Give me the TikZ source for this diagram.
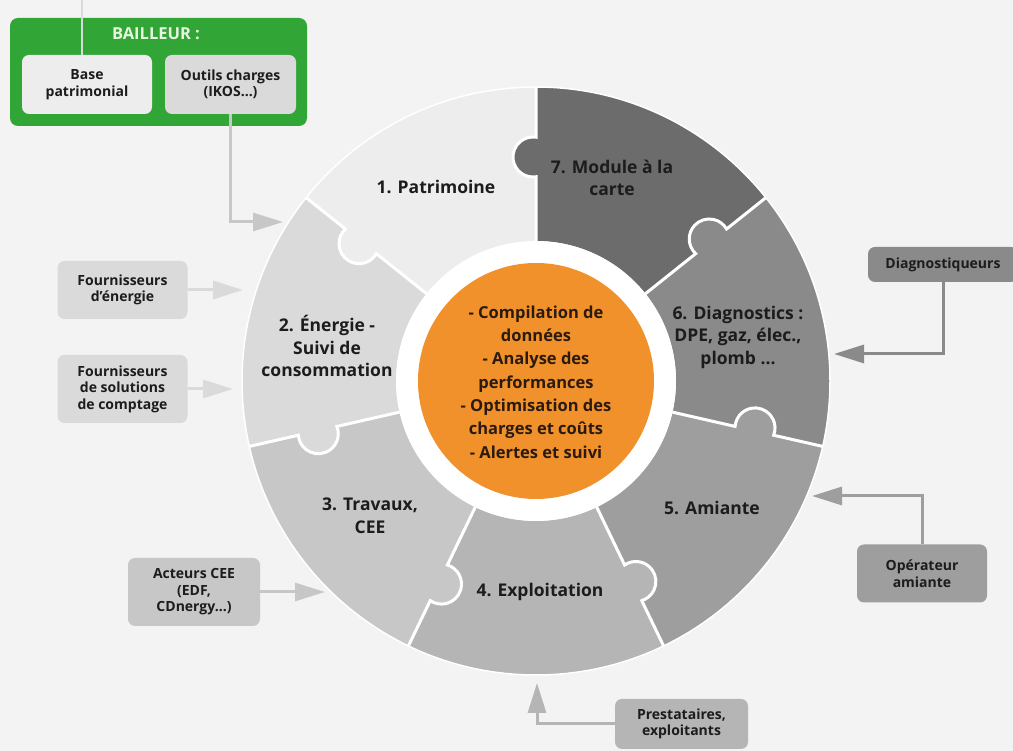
\documentclass[tikz,border=0pt]{standalone}
\usepackage{fontspec}
\setmainfont{Open Sans}
\usetikzlibrary{arrows.meta}

\definecolor{paper}{HTML}{F3F3F3}
\definecolor{seg1}{HTML}{EDEDED}
\definecolor{seg2}{HTML}{DADADA}
\definecolor{seg3}{HTML}{C7C7C7}
\definecolor{seg4}{HTML}{B5B5B5}
\definecolor{seg5}{HTML}{9E9E9E}
\definecolor{seg6}{HTML}{8A8A8A}
\definecolor{seg7}{HTML}{6C6C6C}
\definecolor{hubfill}{HTML}{F0912B}
\definecolor{hubink}{HTML}{2B1A0E}
\definecolor{ink}{HTML}{1C1C1C}
\definecolor{leaf}{HTML}{31A637}
\definecolor{leafink}{HTML}{E8F4E0}

\begin{document}
\begin{tikzpicture}[x=1pt, y=1pt,
  lbl/.style = {align=center, text=ink, font=\fontsize{17.5}{22.5}\selectfont\bfseries},
  hub/.style = {align=center, text=hubink, font=\fontsize{16.5}{23.3}\selectfont\bfseries},
  src/.style = {rounded corners=7pt, align=center, minimum width=130pt, minimum height=58pt,
    inner sep=2pt, text=ink, font=\fontsize{14}{16.5}\selectfont\bfseries},
  feed/.style = {line width=3pt, -{Triangle[length=30pt, width=18pt]}},
  gap/.style = {white, line width=3pt}]
\useasboundingbox (0,0) rectangle (1013,751);
\fill[paper] (0,0) rectangle (1013,751);
\coordinate (o) at (536,370);

% puzzle ring
\foreach \k in {1,...,7} {
  \pgfmathsetmacro{\as}{90+360/7*(\k-1)}
  \pgfmathsetmacro{\ae}{90+360/7*\k}
  \fill[seg\k] (o) ++(\as:140) arc[start angle=\as, end angle=\ae, radius=140]
    -- ++(\ae:154) arc[start angle=\ae, end angle=\as, radius=294] -- cycle;
}
\foreach \k in {1,...,7} {
  \pgfmathsetmacro{\ae}{90+360/7*\k}
  \begin{scope}[shift={(o)}, rotate=\ae]
    \fill[seg\k] (224,3) circle[radius=20];
    \draw[gap] (140,0) -- (204.23,0) arc[start angle=188.63, end angle=-8.63, radius=20] -- (294,0);
  \end{scope}
}
\fill[white] (o) circle[radius=140];
\fill[hubfill] (o) circle[radius=118];
\draw[white, line width=1.5pt] (o) circle[radius=294];

\node[hub] (hub) at (536,369) {- Compilation de\\donn\'ees\\- Analyse des\\performances\\- Optimisation des\\charges et co\^uts\\- Alertes et suivi};
\node[lbl] (m1) at (436,564) {1. Patrimoine};
\node[lbl] (m2) at (327,405) {2. \'Energie -\\Suivi de\\consommation};
\node[lbl] (m3) at (370,235) {3. Travaux,\\CEE};
\node[lbl] (m4) at (540,159) {4. Exploitation};
\node[lbl] (m5) at (712,243) {5. Amiante};
\node[lbl] (m6) at (738,414) {6. Diagnostics :\\DPE, gaz, \'elec.,\\plomb ...};
\node[lbl] (m7) at (612,573) {7. Module \`a la\\carte};

% bailleur
\node[fill=leaf, rounded corners=8pt, minimum width=297pt, minimum height=108pt] (bail) at (158.5,679) {};
\node[text=leafink, font=\fontsize{16.5}{19}\selectfont\bfseries] (bt) at (156,717) {BAILLEUR :};
\node[src, fill=seg1, minimum height=59pt] (base) at (87,666.5) {Base\\patrimonial};
\node[src, fill=seg2, minimum width=131pt, minimum height=59pt] (ikos) at (230.5,666.5) {Outils charges\\(IKOS...)};

% sources
\node[src, fill=seg2] (fen) at (122.5,461) {Fournisseurs\\d’\'energie};
\node[src, fill=seg2, minimum height=68pt] (fcpt) at (122.5,362) {Fournisseurs\\de solutions\\de comptage};
\node[src, fill=seg3, minimum width=132pt, minimum height=68pt] (cee) at (194,159) {Acteurs CEE\\(EDF,\\CDnergy...)};
\node[src, fill=seg4, minimum width=133pt, minimum height=50pt] (exp) at (681.5,27) {Prestataires,\\exploitants};
\node[src, fill=seg5] (ami) at (922,177.5) {Op\'erateur\\amiante};
\node[src, fill=seg6, minimum width=150pt, minimum height=35pt] (diag) at (943,486.5) {Diagnostiqueurs};

\coordinate (top) at (82,751);
\coordinate (t0) at (283,529);
\coordinate (t1) at (243,461);
\coordinate (t2) at (233,362);
\coordinate (t3) at (325,159);
\coordinate (t4) at (537,68);
\coordinate (t5) at (812,255);
\coordinate (t6) at (834,397);

\draw[line width=2.5pt, seg2] (top) -- (top |- base.north);
\draw[feed, seg3] (ikos.south) |- (t0);
\draw[feed, seg2] (fen) -- (t1);
\draw[feed, seg2] (fcpt) -- (t2);
\draw[feed, seg3] (cee) -- (t3);
\draw[feed, seg4] (exp.west) -| (t4);
\draw[feed, seg5] (ami.north) |- (t5);
\draw[feed, seg6] (diag.south) |- (t6);
\end{tikzpicture}
\end{document}
